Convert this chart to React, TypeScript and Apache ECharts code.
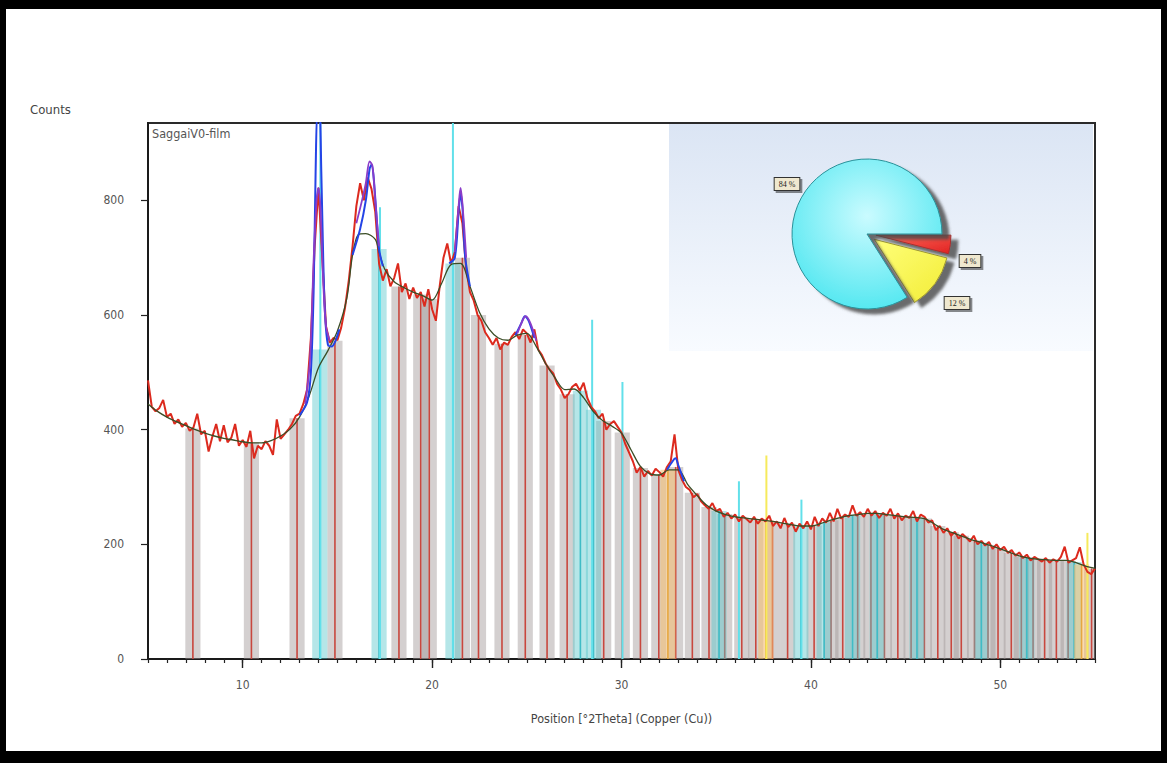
import { useEffect, useRef } from 'react';
import * as echarts from 'echarts';

// ---- Measured scan (°2θ, counts) ----
const observedCounts: [number, number][] = [
  [5.0, 486], [5.2, 440], [5.4, 432], [5.6, 438], [5.8, 452], [6.0, 422], [6.2, 428], [6.4, 410], [6.6, 418], [6.8, 405],
  [7.0, 412], [7.2, 398], [7.4, 404], [7.6, 428], [7.8, 392], [8.0, 398], [8.2, 362], [8.4, 388], [8.6, 410], [8.8, 380],
  [9.0, 408], [9.2, 378], [9.4, 386], [9.6, 410], [9.8, 372], [10.0, 382], [10.2, 370], [10.4, 398], [10.6, 350], [10.8, 372],
  [11.0, 366], [11.2, 380], [11.4, 372], [11.6, 356], [11.8, 418], [12.0, 384], [12.2, 392], [12.4, 400], [12.6, 410], [12.8, 424],
  [13.0, 428], [13.2, 445], [13.4, 470], [13.6, 560], [13.8, 720], [14.0, 822], [14.2, 700], [14.4, 580], [14.6, 552], [14.8, 560],
  [15.0, 556], [15.2, 578], [15.4, 612], [15.6, 660], [15.8, 720], [16.0, 790], [16.2, 830], [16.4, 800], [16.6, 840], [16.8, 820],
  [17.0, 780], [17.2, 690], [17.4, 660], [17.6, 680], [17.8, 650], [18.0, 665], [18.2, 690], [18.4, 640], [18.6, 655], [18.8, 628],
  [19.0, 648], [19.2, 630], [19.4, 640], [19.6, 615], [19.8, 645], [20.0, 610], [20.2, 590], [20.4, 650], [20.6, 700], [20.8, 725],
  [21.0, 690], [21.2, 710], [21.4, 790], [21.6, 760], [21.8, 680], [22.0, 640], [22.2, 625], [22.4, 600], [22.6, 590], [22.8, 570],
  [23.0, 560], [23.2, 548], [23.4, 560], [23.6, 540], [23.8, 552], [24.0, 548], [24.2, 562], [24.4, 570], [24.6, 558], [24.8, 575],
  [25.0, 568], [25.2, 552], [25.4, 575], [25.6, 540], [25.8, 530], [26.0, 515], [26.2, 505], [26.4, 498], [26.6, 480], [26.8, 470],
  [27.0, 455], [27.2, 462], [27.4, 475], [27.6, 480], [27.8, 468], [28.0, 482], [28.2, 455], [28.4, 440], [28.6, 432], [28.8, 420],
  [29.0, 428], [29.2, 400], [29.4, 410], [29.6, 415], [29.8, 405], [30.0, 395], [30.2, 375], [30.4, 360], [30.6, 345], [30.8, 325],
  [31.0, 335], [31.2, 318], [31.4, 328], [31.6, 320], [31.8, 332], [32.0, 326], [32.2, 318], [32.4, 335], [32.6, 345], [32.8, 392],
  [33.0, 330], [33.2, 312], [33.4, 300], [33.6, 295], [33.8, 282], [34.0, 288], [34.2, 275], [34.4, 268], [34.6, 262], [34.8, 272],
  [35.0, 258], [35.2, 262], [35.4, 248], [35.6, 255], [35.8, 245], [36.0, 252], [36.2, 240], [36.4, 250], [36.6, 244], [36.8, 238],
  [37.0, 248], [37.2, 236], [37.4, 245], [37.6, 240], [37.8, 250], [38.0, 232], [38.2, 240], [38.4, 228], [38.6, 246], [38.8, 230],
  [39.0, 238], [39.2, 222], [39.4, 236], [39.6, 228], [39.8, 240], [40.0, 226], [40.2, 248], [40.4, 232], [40.6, 245], [40.8, 238],
  [41.0, 255], [41.2, 240], [41.4, 262], [41.6, 245], [41.8, 252], [42.0, 248], [42.2, 268], [42.4, 250], [42.6, 256], [42.8, 248],
  [43.0, 262], [43.2, 250], [43.4, 258], [43.6, 246], [43.8, 255], [44.0, 250], [44.2, 262], [44.4, 245], [44.6, 254], [44.8, 242],
  [45.0, 250], [45.2, 246], [45.4, 258], [45.6, 240], [45.8, 252], [46.0, 248], [46.2, 238], [46.4, 242], [46.6, 225], [46.8, 232],
  [47.0, 220], [47.2, 228], [47.4, 215], [47.6, 222], [47.8, 210], [48.0, 218], [48.2, 212], [48.4, 205], [48.6, 215], [48.8, 200],
  [49.0, 206], [49.2, 198], [49.4, 204], [49.6, 192], [49.8, 200], [50.0, 190], [50.2, 196], [50.4, 185], [50.6, 190], [50.8, 180],
  [51.0, 186], [51.2, 176], [51.4, 182], [51.6, 172], [51.8, 178], [52.0, 174], [52.2, 170], [52.4, 176], [52.6, 168], [52.8, 174],
  [53.0, 170], [53.2, 178], [53.4, 196], [53.6, 168], [53.8, 172], [54.0, 176], [54.2, 195], [54.4, 165], [54.6, 152], [54.8, 148],
  [55.0, 158],
];

// ---- Calculated background / profile ----
const backgroundCounts: [number, number][] = [
  [5, 445], [5.5, 432], [6, 422], [6.5, 414], [7, 407], [7.5, 400], [8, 394], [8.5, 389], [9, 385], [9.5, 382],
  [10, 379], [10.5, 377], [11, 377], [11.5, 381], [12, 389], [12.5, 401], [13, 422], [13.5, 458], [14, 508], [14.5, 538],
  [15, 572], [15.5, 630], [15.8, 705], [16.1, 740], [16.5, 742], [17, 732], [17.2, 710], [17.5, 680], [18, 658], [18.5, 648],
  [19, 640], [19.5, 634], [20, 626], [20.5, 655], [21, 688], [21.5, 690], [22, 650], [22.5, 605], [23, 576], [23.5, 560],
  [24, 556], [24.5, 565], [25, 568], [25.5, 545], [26, 515], [26.5, 490], [27, 470], [27.5, 471], [28, 456], [28.5, 432],
  [29, 416], [29.5, 406], [30, 394], [30.5, 365], [31, 336], [31.5, 323], [32, 321], [32.5, 330], [33, 330], [33.5, 304],
  [34, 285], [34.5, 268], [35, 258], [35.5, 252], [36, 248], [36.5, 246], [37, 244], [37.5, 242], [38, 240], [38.5, 237],
  [39, 234], [39.5, 232], [40, 232], [40.5, 236], [41, 242], [41.5, 246], [42, 250], [42.5, 252], [43, 254], [43.5, 254],
  [44, 252], [44.5, 250], [45, 248], [45.5, 247], [46, 245], [46.5, 236], [47, 226], [47.5, 220], [48, 214], [48.5, 208],
  [49, 203], [49.5, 198], [50, 192], [50.5, 186], [51, 180], [51.5, 176], [52, 174], [52.5, 173], [53, 172], [53.5, 172],
  [54, 168], [54.5, 162], [55, 158],
];

// ---- Fitted peak profiles (blue) ----
const calcPeakSegments: [number, number][][] = [
  [[13.0, 425], [13.4, 448], [13.6, 500], [13.75, 650], [13.85, 850], [13.95, 960], [14.05, 960], [14.15, 850], [14.25, 700], [14.35, 600], [14.5, 548], [14.7, 545], [14.9, 555], [15.1, 575]],
  [[15.8, 705], [16.2, 750], [16.5, 800], [16.7, 855], [16.8, 862], [16.9, 845], [17.05, 780], [17.2, 715], [17.4, 685]],
  [[20.9, 690], [21.2, 700], [21.4, 780], [21.5, 812], [21.6, 788], [21.75, 700], [22.0, 650]],
  [[24.4, 565], [24.7, 585], [24.9, 598], [25.1, 590], [25.4, 560]],
  [[32.4, 330], [32.7, 345], [32.85, 350], [33.0, 338], [33.3, 310]],
];

// ---- Smoothed observed peaks (purple) ----
const fitPeakSegments: [number, number][][] = [
  [[13.3, 445], [13.55, 520], [13.75, 700], [13.9, 800], [14.0, 822], [14.1, 790], [14.25, 660], [14.4, 580], [14.6, 555]],
  [[16.0, 760], [16.3, 800], [16.5, 830], [16.7, 868], [16.85, 860], [17.0, 800], [17.2, 720]],
  [[21.2, 710], [21.4, 790], [21.5, 822], [21.6, 795], [21.8, 700]],
  [[24.5, 568], [24.8, 592], [24.95, 598], [25.2, 585], [25.5, 555]],
];

// ---- Peak list bands ----
const greyPeakPos = [7.37, 10.46, 12.87, 14.87, 18.25, 19.4, 19.85, 21.6, 22.45, 23.69, 24.92, 26.07, 27.13, 29.06, 30.04, 31.0, 31.97, 32.86, 33.74, 34.62, 35.45, 36.35, 37.09, 37.97, 38.77, 40.17, 41.06, 41.68, 42.47, 43.17, 43.88, 44.59, 45.29, 45.99, 46.7, 47.41, 47.94, 48.64, 49.35, 49.88, 50.58, 51.11, 51.73, 52.34, 52.96, 53.58, 54.82];
const greyPeakCounts = [402, 378, 420, 555, 650, 636, 628, 700, 600, 550, 565, 512, 462, 415, 395, 333, 322, 335, 290, 265, 253, 246, 244, 240, 236, 233, 242, 247, 252, 254, 253, 250, 248, 245, 232, 221, 215, 207, 199, 193, 185, 179, 175, 173, 172, 171, 158];
const cyanPeakPos = [14.07, 17.2, 21.1, 27.83, 28.52, 35.15, 39.47, 40.7, 42.2, 43.5, 45.6, 49.0, 51.4, 53.9];
const cyanPeakCounts = [540, 715, 690, 468, 435, 258, 232, 238, 250, 254, 247, 203, 177, 169];
const orangePeakPos = [32.45, 37.62, 54.29];
const orangePeakCounts = [330, 242, 165];

// ---- Reference pattern sticks ----
const cyanStickPos = [14.1, 17.25, 21.1, 28.45, 30.05, 36.2, 39.5];
const cyanStickCounts = [935, 788, 935, 592, 483, 310, 278];
const yellowStickPos = [37.65, 54.6];
const yellowStickCounts = [355, 220];

// ---- Phase fractions (pie) ----
const phaseNames = ['Phase 2', 'Phase 3', 'Phase 1'];
const phaseShares = [4, 12, 84];

const majorTickLabels = ['10', '20', '30', '40', '50'];
const yMax = 935;

const narrow = "'Liberation Sans Narrow', 'DejaVu Sans Condensed', Roboto, sans-serif";

const pair = (xs: number[], ys: number[]) => xs.map((x, i) => [x, ys[i]]);

const bandRender = (fill: string, line: string) => (_p: any, api: any) => {
  const x = api.value(0);
  const v = api.value(1);
  const top = api.coord([x, v]);
  const base = api.coord([x, 0]);
  const w = api.size([0.8, 0])[0];
  const h = base[1] - top[1];
  return {
    type: 'group',
    children: [
      { type: 'rect', shape: { x: top[0] - w / 2, y: top[1], width: w, height: h }, style: { fill } },
      { type: 'rect', shape: { x: top[0] - 0.8, y: top[1], width: 1.6, height: h }, style: { fill: line } },
    ],
  };
};

const stickRender = (color: string) => (_p: any, api: any) => {
  const x = api.value(0);
  const v = api.value(1);
  const top = api.coord([x, v]);
  const base = api.coord([x, 0]);
  return {
    type: 'rect',
    shape: { x: top[0] - 1, y: top[1], width: 2, height: base[1] - top[1] },
    style: { fill: color },
  };
};

// label anchor points for the pie labels (same order as phaseShares)
const pieLabelAnchors: [number, number][] = [[970, 261], [957, 303], [787, 184]];

function buildOption(): any {
  const series: any[] = [
    { type: 'custom', name: 'peaks', renderItem: bandRender('rgba(160,150,150,0.45)', '#c8473e'), data: pair(greyPeakPos, greyPeakCounts), encode: { x: 0, y: 1 }, clip: true, z: 2, silent: true },
    { type: 'custom', name: 'peaks2', renderItem: bandRender('rgba(90,200,205,0.45)', '#3fbcc6'), data: pair(cyanPeakPos, cyanPeakCounts), encode: { x: 0, y: 1 }, clip: true, z: 2, silent: true },
    { type: 'custom', name: 'peaks3', renderItem: bandRender('rgba(245,190,110,0.55)', '#e6a640'), data: pair(orangePeakPos, orangePeakCounts), encode: { x: 0, y: 1 }, clip: true, z: 2, silent: true },
    { type: 'custom', name: 'ref1', renderItem: stickRender('#62e0ea'), data: pair(cyanStickPos, cyanStickCounts), encode: { x: 0, y: 1 }, clip: true, z: 3, silent: true },
    { type: 'custom', name: 'ref2', renderItem: stickRender('#f6ea5c'), data: pair(yellowStickPos, yellowStickCounts), encode: { x: 0, y: 1 }, clip: true, z: 3, silent: true },
    { type: 'line', name: 'observed', data: observedCounts, showSymbol: false, symbol: 'none', lineStyle: { color: '#dc2a1e', width: 2 }, z: 4, silent: true, clip: true },
    { type: 'line', name: 'background', data: backgroundCounts, showSymbol: false, symbol: 'none', smooth: 0.3, lineStyle: { color: '#3a4d26', width: 1.3 }, z: 5, silent: true, clip: true },
  ];
  calcPeakSegments.forEach((seg, i) => series.push({ type: 'line', name: 'calc' + i, data: seg, showSymbol: false, symbol: 'none', smooth: 0.3, lineStyle: { color: '#2444e6', width: 2 }, z: 6, silent: true, clip: true }));
  fitPeakSegments.forEach((seg, i) => series.push({ type: 'line', name: 'fit' + i, data: seg, showSymbol: false, symbol: 'none', smooth: 0.3, lineStyle: { color: '#8a3cc8', width: 1.8 }, z: 7, silent: true, clip: true }));

  const sliceStyles = [
    { color: { type: 'linear', x: 0, y: 0, x2: 1, y2: 1, colorStops: [{ offset: 0, color: '#ff6a5a' }, { offset: 1, color: '#e02222' }] }, borderColor: '#a83030' },
    { color: { type: 'linear', x: 0, y: 0, x2: 1, y2: 1, colorStops: [{ offset: 0, color: '#ffff7a' }, { offset: 1, color: '#f2ec36' }] }, borderColor: '#9c9632' },
    { color: { type: 'radial', x: 0.5, y: 0.38, r: 0.75, colorStops: [{ offset: 0, color: '#cafbff' }, { offset: 1, color: '#3ee4ee' }] }, borderColor: '#2a9098' },
  ];

  series.push({
    type: 'pie',
    name: 'phases',
    center: [867, 234],
    radius: 75,
    startAngle: 0,
    clockwise: true,
    selectedMode: 'multiple',
    selectedOffset: 9,
    z: 8,
    silent: true,
    emphasis: { disabled: true },
    data: phaseShares.map((v, i) => ({
      value: v,
      name: phaseNames[i],
      selected: i < 2,
      itemStyle: {
        ...sliceStyles[i],
        borderWidth: 1,
        shadowColor: 'rgba(70,70,70,0.8)',
        shadowBlur: 3,
        shadowOffsetX: 7,
        shadowOffsetY: 5,
      },
    })),
    label: { show: false },
    labelLine: { show: false },
  });

  const pieLabels = phaseShares.map((v, i) => ({
    type: 'text',
    z: 12,
    x: pieLabelAnchors[i][0],
    y: pieLabelAnchors[i][1],
    silent: true,
    style: {
      text: `${v} %`,
      fontSize: 8,
      fontFamily: "'Liberation Serif', serif",
      fill: '#222',
      align: 'center',
      verticalAlign: 'middle',
      backgroundColor: '#efe8cf',
      borderColor: '#333',
      borderWidth: 1,
      padding: [2, 4],
      shadowColor: 'rgba(0,0,0,0.45)',
      shadowOffsetX: 2,
      shadowOffsetY: 2,
      shadowBlur: 1,
    },
  }));

  return {
    animation: false,
    backgroundColor: '#ffffff',
    grid: { left: 148, top: 123, right: 72, bottom: 104, show: true, borderColor: '#2a2a2a', borderWidth: 2, backgroundColor: 'transparent', outerBoundsMode: 'none' },
    xAxis: [
      {
        type: 'value', min: 5, max: 55, interval: 1, position: 'bottom',
        name: 'Position [°2Theta] (Copper (Cu))', nameLocation: 'middle', nameGap: 53,
        nameTextStyle: { fontSize: 12.5, color: '#444', fontFamily: narrow },
        axisLine: { show: true, onZero: false, lineStyle: { color: '#1a1a1a', width: 2 } },
        axisTick: { show: true, length: 4, lineStyle: { color: '#222', width: 1.2 } },
        axisLabel: { show: true, margin: 20, fontSize: 12, color: '#555', fontFamily: narrow, formatter: (v: number) => (majorTickLabels.includes(String(v)) ? String(v) : '') },
        splitLine: { show: false },
      },
      {
        type: 'category', position: 'bottom', boundaryGap: false,
        data: Array.from({ length: 51 }, (_, i) => String(5 + i)),
        axisLine: { show: false },
        axisTick: { show: true, length: 9, interval: (_i: number, v: string) => majorTickLabels.includes(v), lineStyle: { color: '#222', width: 1.4 } },
        axisLabel: { show: false },
        splitLine: { show: false },
      },
    ],
    yAxis: {
      type: 'value', min: 0, max: yMax, interval: 200,
      axisLine: { show: true, lineStyle: { color: '#1a1a1a', width: 2 } },
      axisTick: { show: true, length: 7, lineStyle: { color: '#222', width: 1.2 } },
      axisLabel: { margin: 24, fontSize: 12, color: '#555', fontFamily: narrow, showMaxLabel: false },
      splitLine: { show: false },
    },
    graphic: [
      { type: 'rect', z: 1, shape: { x: 669, y: 124, width: 424, height: 227 }, style: { fill: { type: 'linear', x: 0, y: 0, x2: 0, y2: 1, colorStops: [{ offset: 0, color: '#dbe5f4' }, { offset: 1, color: '#f8fbff' }] } }, silent: true },
      { type: 'text', z: 10, left: 152, top: 127, style: { text: 'SaggaiV0-film', fontSize: 12.5, fill: '#555', fontFamily: narrow } },
      { type: 'text', z: 10, left: 30, top: 103, style: { text: 'Counts', fontSize: 13, fill: '#444', fontFamily: narrow } },
      ...pieLabels,
      { type: 'rect', z: 20, shape: { x: 0, y: 0, width: 1167, height: 9 }, style: { fill: '#000' }, silent: true },
      { type: 'rect', z: 20, shape: { x: 0, y: 751, width: 1167, height: 12 }, style: { fill: '#000' }, silent: true },
      { type: 'rect', z: 20, shape: { x: 0, y: 0, width: 6, height: 763 }, style: { fill: '#000' }, silent: true },
      { type: 'rect', z: 20, shape: { x: 1161, y: 0, width: 6, height: 763 }, style: { fill: '#000' }, silent: true },
    ],
    series,
  };
}

export default function App() {
  const ref = useRef<HTMLDivElement>(null);
  useEffect(() => {
    if (!ref.current) return;
    const chart = echarts.init(ref.current, null, { renderer: 'svg' });
    chart.setOption(buildOption());
    return () => chart.dispose();
  }, []);
  return <div ref={ref} style={{ position: 'fixed', left: 0, top: 0, width: 1167, height: 763, background: '#fff' }} />;
}
